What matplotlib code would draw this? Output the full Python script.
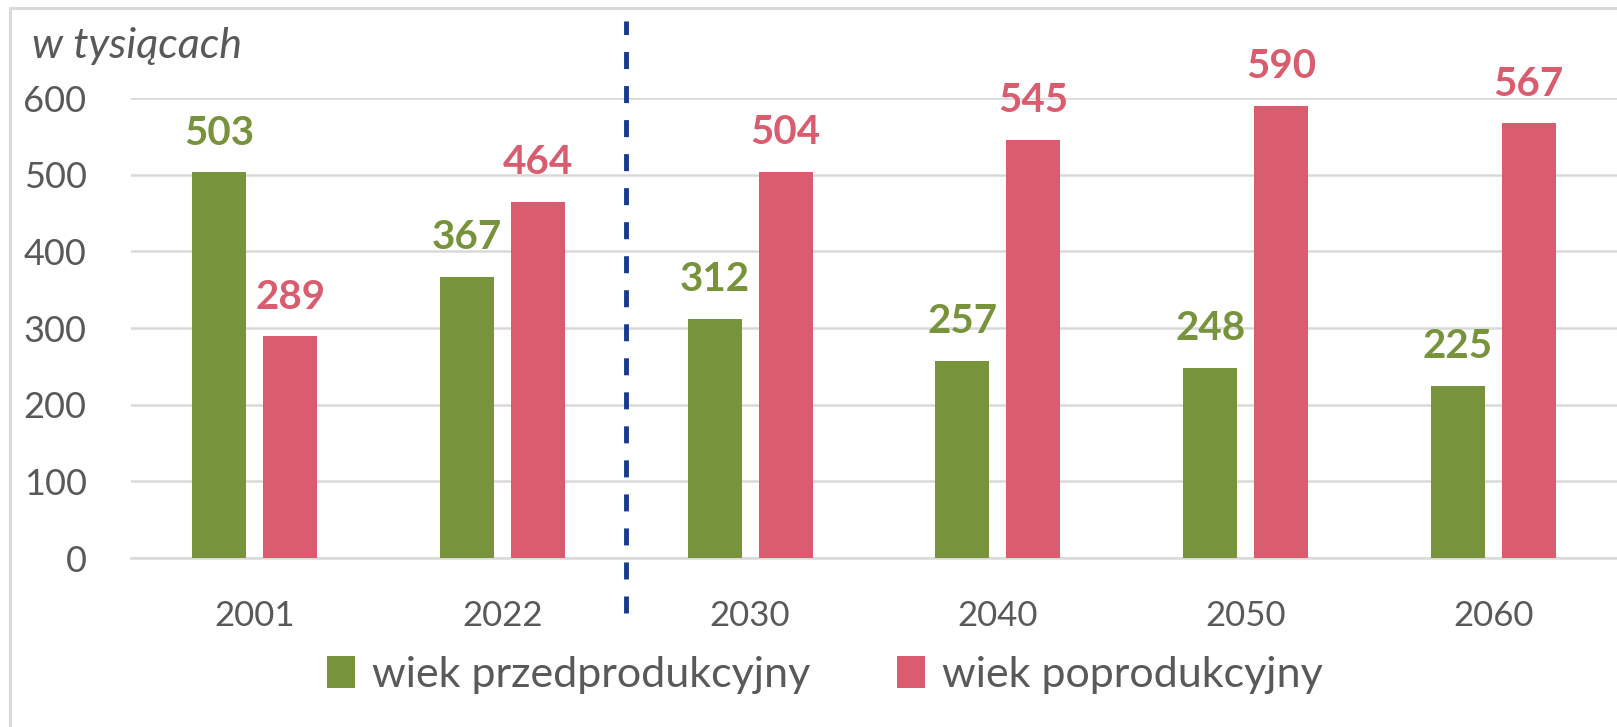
import numpy as np
import matplotlib.pyplot as plt
from matplotlib.patches import Rectangle

years = ['2001', '2022', '2030', '2040', '2050', '2060']
przed = [503, 367, 312, 257, 248, 225]
popro = [289, 464, 504, 545, 590, 567]
labels = ['wiek przedprodukcyjny', 'wiek poprodukcyjny']

green = '#77933C'
red = '#DA5C6F'
grey = '#595959'
plt.rcParams['font.family'] = ['Lato', 'DejaVu Sans']

fig = plt.figure(figsize=(16.17, 7.27), dpi=100)
ax = fig.add_axes([131 / 1617, 1 - 558 / 727, 1 - 131 / 1617, (558 - 98) / 727])

x = np.arange(len(years))
w = 0.218
off = 0.143
b1 = ax.bar(x - off, przed, w, color=green, label=labels[0], zorder=3)
b2 = ax.bar(x + off, popro, w, color=red, label=labels[1], zorder=3)

for xi, v in zip(x, przed):
    ax.annotate(str(v), (xi - off, v), xytext=(0, 20), textcoords='offset points',
                ha='center', va='baseline', fontsize=29, fontweight='bold', color=green)
for xi, v in zip(x, popro):
    ax.annotate(str(v), (xi + off, v), xytext=(0, 20), textcoords='offset points',
                ha='center', va='baseline', fontsize=29, fontweight='bold', color=red)

ax.set_xlim(-0.5, len(years) - 0.5)
ax.set_ylim(0, 600)
ax.set_yticks(range(0, 700, 100))
ax.set_xticks(x)
ax.set_xticklabels(years)
ax.yaxis.grid(True, color='#d9d9d9', lw=1.8, zorder=0)
ax.tick_params(axis='y', length=0, pad=32, labelsize=26, labelcolor=grey)
ax.tick_params(axis='x', length=0, pad=30, labelsize=25, labelcolor=grey)
for s in ['top', 'right', 'left']:
    ax.spines[s].set_visible(False)
ax.spines['bottom'].set_color('#d9d9d9')
ax.spines['bottom'].set_linewidth(1.8)

# separator between data and projection
ax.plot([1.5, 1.5], [-72, 700], ls=(0, (3.5, 3.5)), color='#173A8F', lw=3.5,
        clip_on=False, zorder=4)

fig.text(32 / 1617, 1 - 58 / 727, 'w tysiącach', fontsize=31, style='italic',
         color=grey, ha='left', va='baseline')

fig.legend(handles=[b1, b2], labels=labels, loc='center', ncol=2,
           bbox_to_anchor=(825 / 1617, 1 - 675 / 727), frameon=False,
           fontsize=31, labelcolor=grey, handlelength=0.65, handleheight=0.75,
           handletextpad=0.4, columnspacing=2.0)

fig.patches.append(Rectangle((10 / 1617, -0.1), 1.2, 1 - 8 / 727 + 0.1,
                             transform=fig.transFigure, fill=False,
                             edgecolor='#d9d9d9', lw=2.2))

fig.savefig('out.png', dpi=100)
